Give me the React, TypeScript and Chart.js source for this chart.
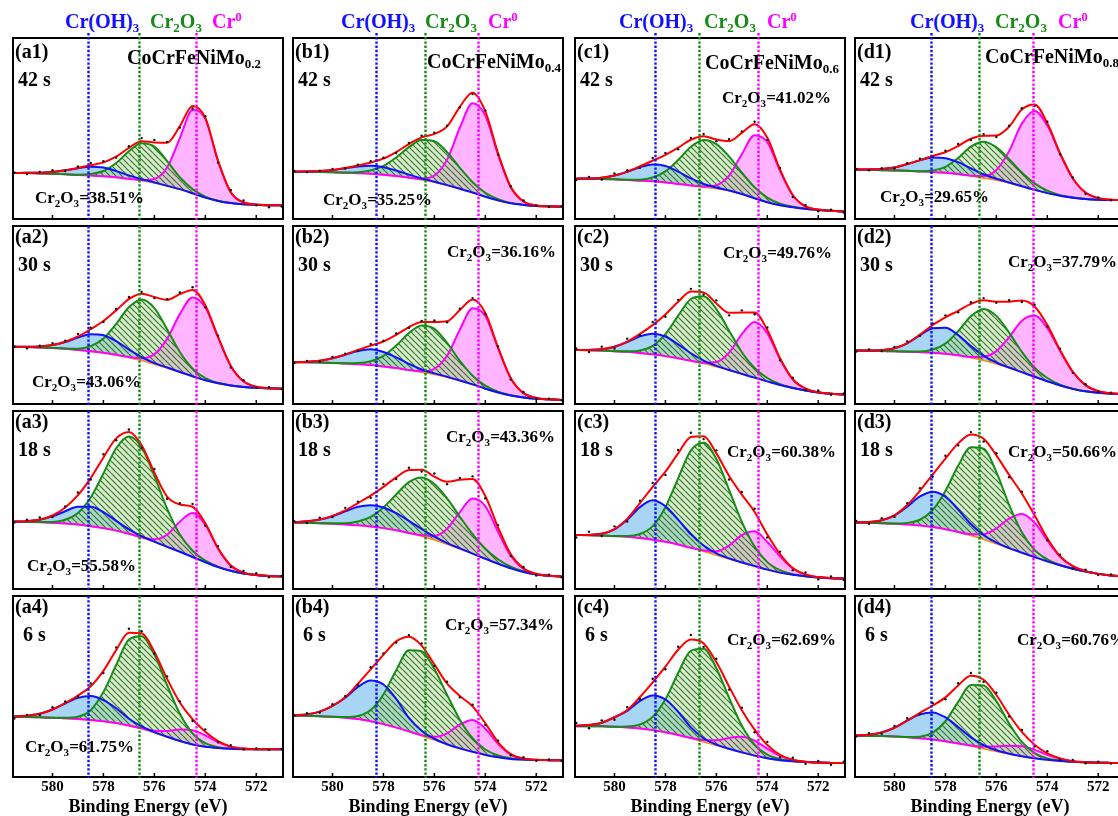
import React, { useEffect, useRef } from "react";
import { Chart, registerables } from "chart.js";

Chart.register(...registerables);

// Binding energies (eV) at which every curve is sampled
const ENERGY = [581.5, 581, 580.5, 580, 579.5, 579, 578.5, 578, 577.5, 577, 576.5, 576, 575.5, 575, 574.5, 574, 573.5, 573, 572.5, 572, 571.5, 571];
const TICK_VALUES = [580, 578, 576, 574, 572];
const X_MIN = 570.95;
const X_MAX = 581.55;

const MO_CONTENT = ["0.2", "0.4", "0.6", "0.8"];
const TIMES = ["42 s", "30 s", "18 s", "6 s"];
const PCT_A = [38.51, 43.06, 55.58, 61.75];
const PCT_B = [35.25, 36.16, 43.36, 57.34];
const PCT_C = [41.02, 49.76, 60.38, 62.69];
const PCT_D = [29.65, 37.79, 50.66, 60.76];

// Peak positions marked by the dotted guides: Cr(OH)3, Cr2O3, Cr0
const REF_A = [578.59, 576.6, 574.37];
const REF_B = [578.29, 576.37, 574.29];
const REF_C = [578.4, 576.67, 574.37];
const REF_D = [578.55, 576.67, 574.56];

// Each panel: background (BG), Cr(OH)3 (OH), Cr2O3 (OX) and Cr0 (M) components above background,
// and the offsets of the measured points from the fitted envelope (RES)
const A1_BG = [25.4,25.4,25.2,25.0,24.7,24.3,24.0,23.6,23.0,22.2,21.2,20.0,18.3,16.5,14.2,11.8,10.0,8.8,8.1,7.8,7.6,7.6];
const A1_OH = [0,0.1,0.3,1.0,2.2,3.8,4.9,4.8,3.5,1.9,0.8,0.2,0,0,0,0,0,0,0,0,0,0];
const A1_OX = [0,0,0,0,0,0.1,0.8,2.9,7.9,15.2,20.7,20.0,13.7,6.6,2.3,0.6,0.1,0,0,0,0,0];
const A1_M = [0,0,0,0,0,0,0,0,0,0,0.3,2.1,10.1,28.2,46.0,43.5,22.0,6.0,1.0,0.2,0,0];
const A1_RES = [0.3,-0.6,0.5,1.0,-0.4,0.8,1.3,0.6,-0.5,0.9,1.7,1.4,0.5,-0.8,-1.4,0.9,-1.0,1.2,1.1,-0.4,-1.1,-0.7];

const A2_BG = [32.1,32.0,31.8,31.5,31.0,30.4,29.7,28.8,27.7,26.2,24.4,22.4,20.3,18.0,15.6,13.3,11.6,10.4,9.6,9.1,8.8,8.6];
const A2_OH = [0,0.1,0.5,1.6,3.8,6.9,9.5,9.8,7.6,4.4,1.9,0.6,0.2,0,0,0,0,0,0,0,0,0];
const A2_OX = [0,0,0,0,0.2,0.7,2.8,8.0,17.3,28.1,34.3,31.5,21.7,11.2,4.3,1.3,0.3,0,0,0,0,0];
const A2_M = [0,0,0,0,0,0,0,0,0,0.2,1.3,5.6,16.3,32.5,44.2,40.9,25.8,11.0,3.2,0.6,0.1,0];
const A2_RES = [0.2,-0.8,0.4,1.1,0.6,1.4,0.9,-0.5,0.8,1.2,1.0,-0.6,0.4,0.9,1.5,-1.2,0.7,-0.9,0.6,-0.4,0.5,-0.2];

const A3_BG = [37.8,37.7,37.5,37.2,36.8,36.2,35.3,34.2,32.8,31.0,28.8,26.4,23.7,20.9,18.0,15.0,12.3,10.2,8.7,7.8,7.3,7.0];
const A3_OH = [0.1,0.4,1.4,3.6,6.9,10.0,10.9,9.0,5.5,2.5,0.9,0.2,0,0,0,0,0,0,0,0,0,0];
const A3_OX = [0,0,0.1,0.5,2.1,6.5,16.1,30.7,46.3,54.7,50.9,37.2,21.4,9.7,3.5,0.9,0.2,0,0,0,0,0];
const A3_M = [0,0,0,0,0,0,0,0,0,0,0.2,1.6,6.8,16.9,24.7,21.0,10.4,3.0,0.5,0,0,0];
const A3_RES = [-0.5,0.8,1.2,-0.9,0.6,1.5,-0.8,1.8,-1.0,1.4,-1.5,2.0,-1.2,0.7,1.6,-1.4,1.2,-0.8,0.9,1.1,-0.7,0.4];

const A4_BG = [33.3,33.2,33.0,32.8,32.4,32.0,31.5,30.8,29.8,28.4,26.6,24.4,22.1,19.9,18.0,16.7,16.0,15.6,15.4,15.3,15.3,15.3];
const A4_OH = [0.2,0.6,1.9,4.5,8.2,11.7,13.2,11.7,8.2,3.8,1.4,0.4,0.1,0,0,0,0,0,0,0,0,0];
const A4_OX = [0,0,0,0,0.3,1.3,5.4,16.1,32.1,47.5,51.1,43.2,28.7,15.0,6.1,2.0,0.5,0.1,0,0,0,0];
const A4_M = [0,0,0,0,0,0,0,0,0,0,0.3,1.1,3.3,6.3,7.8,6.3,3.3,1.1,0.3,0,0,0];
const A4_RES = [-1.2,0.5,-0.6,1.3,0.8,-0.5,1.6,-1.2,1.5,2.2,1.1,-0.9,1.4,0.6,-1.0,1.3,-0.6,0.8,-0.4,0.5,-0.3,0.2];

const B1_BG = [26.1,26.1,26.0,25.8,25.6,25.3,25.0,24.5,23.8,22.8,21.6,20.3,18.6,16.7,14.6,12.3,10.3,8.7,7.8,7.2,7.0,6.8];
const B1_OH = [0,0.2,0.5,1.3,2.5,3.7,4.4,4.1,3.0,1.7,0.8,0.3,0.1,0,0,0,0,0,0,0,0,0];
const B1_OX = [0,0,0,0,0.1,0.55,1.8,4.8,10.2,16.9,22.1,22.7,18.3,11.6,5.7,2.2,0.7,0.2,0,0,0,0];
const B1_M = [0,0,0,0,0,0,0,0,0,0,0.6,3.7,14.2,33.7,49.4,44.9,25.3,8.8,1.9,0.3,0,0];
const B1_RES = [0.3,-0.4,0.2,0.6,-0.3,0.5,0.8,0.4,-0.5,0.6,0.9,0.7,0.4,-0.3,-0.6,0.5,-0.7,0.4,0.6,-0.2,-0.4,0.3];

const B2_BG = [23.4,23.4,23.3,23.1,22.8,22.4,21.9,21.1,20.2,19.1,17.9,16.6,15.1,13.2,11.0,8.6,6.5,4.8,3.7,3.0,2.6,2.3];
const B2_OH = [0.1,0.3,1.0,2.6,4.9,7.4,8.8,8.1,6.0,3.4,1.5,0.6,0.15,0,0,0,0,0,0,0,0,0];
const B2_OX = [0,0,0,0,0.1,0.6,2.1,5.9,12.6,20.7,26.2,25.6,19.2,11.1,4.9,1.7,0.4,0.1,0,0,0,0];
const B2_M = [0,0,0,0,0,0,0,0,0,0,0.5,3.2,12.0,28.5,42.8,40.9,24.9,9.6,2.4,0.4,0,0];
const B2_RES = [-0.3,0.5,-0.4,0.7,0.4,-0.6,0.9,0.5,0.8,-0.4,0.6,0.9,-0.5,0.7,0.8,-0.6,0.5,-0.8,0.6,-0.3,0.4,-0.2];

const B3_BG = [37.3,37.2,37.0,36.7,36.3,35.8,35.1,34.2,33.0,31.5,29.7,27.6,25.2,22.6,19.9,17.0,14.2,11.6,9.6,8.2,7.4,7.0];
const B3_OH = [0.2,0.8,2.0,4.2,7.3,10.4,12.0,11.6,9.6,6.8,4.0,1.8,0.6,0.2,0,0,0,0,0,0,0,0];
const B3_OX = [0,0,0,0.2,0.6,2.1,5.4,11.6,20.1,28.5,32.9,31.4,25.7,18.0,10.9,5.6,2.5,0.9,0.3,0.1,0,0];
const B3_M = [0,0,0,0,0,0,0,0,0,0,0.45,2.3,8.7,20.6,31.0,29.6,17.9,7.0,1.7,0.2,0,0];
const B3_RES = [0.6,-0.9,1.1,-0.7,1.4,0.8,-1.2,1.6,-0.9,1.3,-1.1,1.8,-1.3,1.0,1.5,-1.2,1.3,-1.0,0.8,-0.9,0.7,-0.4];

const B4_BG = [33.9,33.8,33.6,33.3,32.8,32.0,30.8,29.2,27.3,25.2,22.8,20.4,18.0,15.8,13.9,12.2,10.9,10.0,9.6,9.4,9.3,9.2];
const B4_OH = [0.3,0.8,2.5,6.0,11.0,17.8,22.5,21.9,15.9,7.5,2.8,0.7,0.1,0,0,0,0,0,0,0,0,0];
const B4_OX = [0,0,0,0,0.3,1.7,6.2,16.4,31.7,44.8,46.7,39.3,27.4,15.8,7.5,3.0,1.0,0.3,0.1,0,0,0];
const B4_M = [0,0,0,0,0,0,0,0,0,0,0.3,1.8,6.1,13.2,17.6,14.5,7.4,2.3,0.5,0.1,0,0];
const B4_RES = [-0.4,0.6,-0.5,0.9,0.6,-0.7,1.1,0.8,-0.6,0.9,1.2,-0.8,1.0,-0.7,0.9,-1.0,0.8,-0.6,0.7,-0.5,0.4,-0.3];

const C1_BG = [22.3,22.2,22.1,21.9,21.6,21.2,20.8,20.2,19.4,18.5,17.6,16.8,15.6,13.8,11.5,9.3,7.6,6.5,5.6,5.0,4.5,4.1];
const C1_OH = [0,0.2,0.75,2.1,4.5,7.4,9.3,9.1,6.8,3.9,1.7,0.6,0.15,0,0,0,0,0,0,0,0,0];
const C1_OX = [0,0,0,0,0.1,0.55,2.1,6.1,13.2,21.4,26.1,24.6,18.9,11.8,6.0,2.5,0.8,0.25,0.05,0,0,0];
const C1_M = [0,0,0,0,0,0,0,0,0,0,0.3,1.9,8.4,22.0,34.8,33.1,18.9,6.5,1.3,0.2,0,0];
const C1_RES = [-0.8,0.9,-1.1,1.2,0.7,-0.9,1.5,1.1,-0.8,1.0,1.3,-0.9,1.1,0.8,1.4,-1.2,0.9,-1.1,0.8,-0.9,0.6,-0.5];

const C2_BG = [30.3,30.2,30.0,29.7,29.3,28.7,27.9,26.9,25.7,24.3,22.7,20.9,19.0,16.9,14.8,12.7,10.7,9.0,7.6,6.5,5.8,5.4];
const C2_OH = [0,0.2,0.8,2.5,5.5,9.3,11.6,11.0,7.8,4.2,1.7,0.5,0.1,0,0,0,0,0,0,0,0,0];
const C2_OX = [0,0,0,0,0.3,1.4,4.8,12.4,23.9,34.7,37.8,32.4,22.2,12.2,5.4,1.9,0.5,0.1,0,0,0,0];
const C2_M = [0,0,0,0,0,0,0,0,0,0,0.5,2.7,9.9,22.3,31.2,27.0,14.5,4.8,1.0,0.1,0,0];
const C2_RES = [0.9,-1.2,1.4,-1.0,1.6,-0.8,1.8,-1.3,1.1,1.5,-1.2,1.7,-1.4,1.2,-1.0,1.4,-1.1,0.9,-0.8,1.0,-0.6,0.5];

const C3_BG = [30.3,30.2,30.0,29.7,29.3,28.6,27.7,26.5,25.0,23.2,21.2,19.0,16.9,14.9,12.9,10.9,9.2,8.0,7.1,6.5,6.1,5.9];
const C3_OH = [0,0.2,1.0,3.8,9.6,17.4,22.1,20.0,14.0,7.5,3.2,1.0,0.3,0,0,0,0,0,0,0,0,0];
const C3_OX = [0,0,0,0.1,0.5,2.3,7.6,19.4,37.2,54.7,61.0,54.0,38.8,22.8,10.9,4.2,1.4,0.3,0.1,0,0,0];
const C3_M = [0,0,0,0,0,0,0,0,0,0,0.4,2.2,7.5,15.3,19.5,15.5,9.0,3.5,1.0,0.2,0,0];
const C3_RES = [-1.4,1.8,-1.2,1.6,-1.5,1.3,2.2,-1.8,1.9,2.4,-1.6,1.7,-2.0,1.5,1.8,-1.6,1.4,-1.2,1.1,-1.3,0.9,-0.8];

const C4_BG = [28.1,28.1,28.0,27.8,27.4,26.8,25.9,24.7,23.2,21.4,19.4,17.4,15.5,13.6,11.8,10.3,9.3,8.7,8.3,8.0,7.8,7.7];
const C4_OH = [0.2,0.6,2.0,5.2,9.1,15.2,19.1,18.1,12.8,6.0,2.0,0.5,0.1,0,0,0,0,0,0,0,0,0];
const C4_OX = [0,0,0,0,0.5,2.2,7.3,18.2,34.3,48.3,51.4,42.7,28.2,14.7,6.1,2.0,0.5,0.1,0,0,0,0];
const C4_M = [0,0,0,0,0,0,0,0,0,0.2,1.0,2.9,6.1,8.6,8.3,5.4,2.4,0.7,0.15,0,0,0];
const C4_RES = [1.5,-1.8,1.3,-1.4,1.6,-1.2,2.0,-1.5,1.7,2.6,-1.9,1.8,-1.6,1.4,-1.5,1.7,-1.3,1.1,-1.2,0.9,-1.0,0.7];

const D1_BG = [27.3,27.2,27.0,26.8,26.6,26.3,26.0,25.5,24.8,23.8,22.6,21.4,19.9,18.0,16.1,14.3,12.8,11.8,11.1,10.7,10.5,10.4];
const D1_OH = [0,0.2,0.65,1.7,3.7,6.1,8.0,8.1,6.6,4.2,2.1,0.8,0.25,0.1,0,0,0,0,0,0,0,0];
const D1_OX = [0,0,0,0,0,0.15,0.85,3.3,8.9,16.2,20.1,18.2,13.2,7.7,3.6,1.35,0.4,0.1,0,0,0,0];
const D1_M = [0,0,0,0,0,0,0,0,0,0.15,1.2,5.7,17.6,34.7,43.6,37.3,23.2,10.6,3.5,0.85,0.15,0];
const D1_RES = [0.3,-0.5,0.4,-0.6,0.5,0.7,-0.6,0.8,1.2,-0.7,0.9,-0.8,0.6,0.7,-0.9,0.8,-0.6,0.5,-0.7,0.4,-0.3,0.2];

const D2_BG = [30.0,29.9,29.8,29.6,29.4,29.1,28.8,28.2,27.3,26.0,24.4,22.5,20.3,17.9,15.3,12.8,10.4,8.5,7.1,6.3,5.8,5.6];
const D2_OH = [0,0.1,0.5,1.7,4.7,9.5,13.8,14.7,11.4,6.5,2.7,0.8,0.2,0,0,0,0,0,0,0,0,0];
const D2_OX = [0,0,0,0,0.1,0.4,1.8,5.8,13.6,23.3,29.0,27.0,19.8,11.4,5.1,1.8,0.5,0.1,0,0,0,0];
const D2_M = [0,0,0,0,0,0,0,0,0.06,0.45,2.2,7.2,17.2,28.9,34.4,29.8,19.4,9.5,3.5,0.95,0.2,0];
const D2_RES = [-0.5,0.7,-0.6,0.8,1.0,-0.7,0.9,1.1,-0.8,0.9,1.2,-0.6,0.8,-0.9,1.0,-0.8,0.7,-0.6,0.5,-0.4,0.3,-0.2];

const D3_BG = [37.3,37.2,37.0,36.7,36.3,35.7,34.8,33.6,32.0,30.0,27.8,25.4,22.9,20.4,17.9,15.5,13.3,11.4,9.8,8.5,7.6,7.0];
const D3_OH = [0.1,0.4,1.6,4.6,10.0,16.3,19.9,18.2,12.6,6.5,2.5,0.7,0.1,0,0,0,0,0,0,0,0,0];
const D3_OX = [0,0,0,0.1,0.85,3.2,9.6,21.5,37.2,49.6,51.0,40.3,24.4,11.5,4.1,1.2,0.2,0,0,0,0,0];
const D3_M = [0,0,0,0,0,0,0,0,0,0.75,3.1,8.7,16.7,21.8,19.4,11.8,4.9,1.4,0.25,0,0,0];
const D3_RES = [0.8,-1.0,1.2,-0.9,1.1,1.4,-1.2,1.6,-1.1,1.3,-1.5,1.2,-1.3,1.0,1.4,-1.1,0.9,-1.2,0.8,-0.7,0.6,-0.5];

const D4_BG = [22.8,22.7,22.6,22.4,22.0,21.4,20.7,19.7,18.5,17.1,15.6,14.1,12.7,11.5,10.4,9.5,8.9,8.4,8.1,7.9,7.8,7.7];
const D4_OH = [0.2,0.65,2.0,4.8,9.1,13.2,15.0,13.2,9.1,4.8,2.0,0.65,0.2,0,0,0,0,0,0,0,0,0];
const D4_OX = [0,0,0,0,0.15,0.9,3.8,11.1,23.0,33.7,34.9,27.8,16.9,7.9,2.8,0.8,0.2,0,0,0,0,0];
const D4_M = [0,0,0,0,0,0,0,0,0,0.35,1.2,2.75,4.6,5.5,4.6,2.75,1.2,0.35,0.1,0,0,0];
const D4_RES = [-0.6,0.8,-0.7,1.0,1.2,-0.9,1.3,-1.0,1.2,1.5,-1.1,1.3,-1.0,1.1,-0.9,1.2,-0.8,0.7,-0.6,0.5,-0.4,0.3];

const COLUMNS = [
  { key: "a", refs: REF_A, pct: PCT_A, panels: [
    { bg: A1_BG, oh: A1_OH, ox: A1_OX, m: A1_M, res: A1_RES },
    { bg: A2_BG, oh: A2_OH, ox: A2_OX, m: A2_M, res: A2_RES },
    { bg: A3_BG, oh: A3_OH, ox: A3_OX, m: A3_M, res: A3_RES },
    { bg: A4_BG, oh: A4_OH, ox: A4_OX, m: A4_M, res: A4_RES },
  ] },
  { key: "b", refs: REF_B, pct: PCT_B, panels: [
    { bg: B1_BG, oh: B1_OH, ox: B1_OX, m: B1_M, res: B1_RES },
    { bg: B2_BG, oh: B2_OH, ox: B2_OX, m: B2_M, res: B2_RES },
    { bg: B3_BG, oh: B3_OH, ox: B3_OX, m: B3_M, res: B3_RES },
    { bg: B4_BG, oh: B4_OH, ox: B4_OX, m: B4_M, res: B4_RES },
  ] },
  { key: "c", refs: REF_C, pct: PCT_C, panels: [
    { bg: C1_BG, oh: C1_OH, ox: C1_OX, m: C1_M, res: C1_RES },
    { bg: C2_BG, oh: C2_OH, ox: C2_OX, m: C2_M, res: C2_RES },
    { bg: C3_BG, oh: C3_OH, ox: C3_OX, m: C3_M, res: C3_RES },
    { bg: C4_BG, oh: C4_OH, ox: C4_OX, m: C4_M, res: C4_RES },
  ] },
  { key: "d", refs: REF_D, pct: PCT_D, panels: [
    { bg: D1_BG, oh: D1_OH, ox: D1_OX, m: D1_M, res: D1_RES },
    { bg: D2_BG, oh: D2_OH, ox: D2_OX, m: D2_M, res: D2_RES },
    { bg: D3_BG, oh: D3_OH, ox: D3_OX, m: D3_M, res: D3_RES },
    { bg: D4_BG, oh: D4_OH, ox: D4_OX, m: D4_M, res: D4_RES },
  ] },
];

// ---- layout ----
const SERIF = "'Liberation Serif', 'Times New Roman', Times, serif";
const COL_LEFT = [9, 289, 571, 851];
const PANEL_W = 278;
const PANEL_TOP = [37, 222, 407, 592];
const CANVAS_TOP = [33, 222, 407, 592];
const CANVAS_H = [190, 186, 186, 224];
const PAD_TOP = [5, 1, 1, 1];
const PAD_BOTTOM = [1, 1, 1, 0];

const HEADER_X = [
  [65, 150, 212],
  [341, 425, 488],
  [619, 704, 767],
  [910, 995, 1058],
];
const ALLOY_POS = [[127, 57], [427, 61], [705, 62], [985, 56]];
const PCT_POS = [
  [[35, 198], [32, 382], [27, 566], [25, 747]],
  [[323, 200], [447, 252], [446, 437], [445, 625]],
  [[722, 98], [723, 253], [727, 452], [727, 640]],
  [[880, 197], [1008, 262], [1008, 452], [1017, 640]],
];

const C_BLUE = "#1010ff";
const C_GREEN = "#168c16";
const C_MAGENTA = "#ff00ff";
const C_RED = "#ff0000";
const C_ORANGE = "#ff8c1a";
const FILL_BLUE = "rgba(110, 185, 235, 0.6)";
const FILL_PINK = "rgba(255, 120, 255, 0.55)";

function makeHatch() {
  const s = 6;
  const c = document.createElement("canvas");
  c.width = s;
  c.height = s;
  const g = c.getContext("2d");
  if (!g) return "rgba(165,225,135,0.5)";
  g.fillStyle = "rgba(165, 225, 135, 0.5)";
  g.fillRect(0, 0, s, s);
  g.strokeStyle = "rgba(35, 75, 35, 0.8)";
  g.lineWidth = 1.2;
  g.beginPath();
  g.moveTo(0, 0); g.lineTo(s, s);
  g.moveTo(-s, 0); g.lineTo(0, s);
  g.moveTo(s, 0); g.lineTo(2 * s, s);
  g.stroke();
  return g.createPattern(c, "repeat") || "rgba(165,225,135,0.5)";
}

const decorPlugin = {
  id: "decor",
  afterDatasetsDraw(chart: any, _args: any, opts: any) {
    const { ctx, chartArea, scales } = chart;
    const { left, right, top, bottom } = chartArea;
    const x = scales.x;
    ctx.save();
    // frame
    ctx.strokeStyle = "#000";
    ctx.lineWidth = 2;
    ctx.strokeRect(left, top, right - left, bottom - top);
    // inward ticks along the lower edge
    ctx.lineWidth = 1.5;
    TICK_VALUES.forEach((v) => {
      const px = x.getPixelForValue(v);
      ctx.beginPath();
      ctx.moveTo(px, bottom);
      ctx.lineTo(px, bottom - 4);
      ctx.stroke();
    });
    // dotted guides at the component positions
    const colors = [C_BLUE, C_GREEN, C_MAGENTA];
    ctx.lineWidth = 2.4;
    ctx.setLineDash([2.4, 1.8]);
    opts.refs.forEach((e: number, i: number) => {
      const px = Math.round(x.getPixelForValue(e)) + 0.5;
      ctx.strokeStyle = colors[i];
      ctx.beginPath();
      ctx.moveTo(px, top - opts.extendTop);
      ctx.lineTo(px, bottom + 1);
      ctx.stroke();
    });
    ctx.restore();
  },
};

function Panel({ spec, col, row }: any) {
  const ref = useRef<HTMLCanvasElement>(null);
  const refs = COLUMNS[col].refs;
  useEffect(() => {
    const canvas = ref.current;
    if (!canvas) return;
    const hatch = makeHatch();
    const pts = (vals: number[]) => ENERGY.map((e, i) => ({ x: e, y: vals[i] }));
    const withBg = (vals: number[]) => spec.bg.map((b: number, i: number) => b + vals[i]);
    const envelope = spec.bg.map((b: number, i: number) => b + spec.oh[i] + spec.ox[i] + spec.m[i]);
    const measured = envelope.map((v: number, i: number) => v + spec.res[i]);
    const isBottom = row === 3;
    const line = (label: string, vals: number[], color: string, order: number, extra: any = {}) => ({
      label,
      data: pts(vals),
      borderColor: color,
      borderWidth: 2,
      pointRadius: 0,
      fill: false,
      cubicInterpolationMode: "monotone",
      order,
      ...extra,
    });
    const none = "rgba(0,0,0,0)";
    const chart = new Chart(canvas, {
      type: "line",
      data: {
        datasets: [
          line("Background", spec.bg, C_ORANGE, 5, { borderWidth: 1.6 }),
          line("Cr0 area", withBg(spec.m), none, 8, { fill: 0, backgroundColor: FILL_PINK, borderWidth: 0 }),
          line("Cr(OH)3 area", withBg(spec.oh), none, 7, { fill: 0, backgroundColor: FILL_BLUE, borderWidth: 0 }),
          line("Cr2O3 area", withBg(spec.ox), none, 6, { fill: 0, backgroundColor: hatch, borderWidth: 0 }),
          line("Cr0", withBg(spec.m), C_MAGENTA, 4),
          line("Cr2O3", withBg(spec.ox), C_GREEN, 3),
          line("Cr(OH)3", withBg(spec.oh), C_BLUE, 2),
          line("Fit", envelope, C_RED, 1),
          {
            label: "Measured",
            data: pts(measured),
            showLine: false,
            pointRadius: 1.2,
            pointBackgroundColor: "#111",
            pointBorderWidth: 0,
            borderColor: none,
            order: 0,
          },
        ],
      } as any,
      options: {
        animation: false,
        responsive: false,
        events: [],
        layout: { padding: { left: 1, right: 1, top: PAD_TOP[row], bottom: PAD_BOTTOM[row] } },
        plugins: {
          legend: { display: false },
          tooltip: { enabled: false },
          decor: { refs, extendTop: row === 0 ? 5 : 0 },
        } as any,
        scales: {
          x: {
            type: "linear",
            reverse: true,
            min: X_MIN,
            max: X_MAX,
            display: isBottom,
            afterBuildTicks: (s: any) => {
              s.ticks = TICK_VALUES.map((v) => ({ value: v }));
            },
            grid: { display: false, drawTicks: false },
            border: { display: false },
            ticks: {
              padding: 3,
              color: "#000",
              font: { family: SERIF, weight: "bold", size: 15, lineHeight: 1 },
              callback: (v: any) => String(v),
            },
            title: {
              display: isBottom,
              text: "Binding Energy (eV)",
              color: "#000",
              padding: 0,
              font: { family: SERIF, weight: "bold", size: 18, lineHeight: 1 },
            },
          },
          y: { display: false, min: 0, max: 100 },
        },
      } as any,
      plugins: [decorPlugin as any],
    });
    return () => chart.destroy();
  }, []);
  return (
    <canvas
      ref={ref}
      width={PANEL_W}
      height={CANVAS_H[row]}
      style={{ position: "absolute", left: COL_LEFT[col], top: CANVAS_TOP[row], width: PANEL_W, height: CANVAS_H[row] }}
    />
  );
}

const subStyle: any = { fontSize: "0.65em", position: "relative", top: "0.32em", verticalAlign: "baseline" };
const supStyle: any = { fontSize: "0.65em", position: "relative", top: "-0.5em", verticalAlign: "baseline" };

function Txt({ x, cy, size, color = "#000", children }: any) {
  return (
    <div
      style={{
        position: "absolute",
        left: x,
        top: cy - size * 0.51,
        fontFamily: SERIF,
        fontWeight: "bold",
        fontSize: size,
        lineHeight: 1,
        color,
        whiteSpace: "nowrap",
      }}
    >
      {children}
    </div>
  );
}

export default function App() {
  return (
    <div style={{ position: "fixed", left: 0, top: 0, width: 1118, height: 816, overflow: "hidden", background: "#fff" }}>
      {COLUMNS.map((c, ci) =>
        c.panels.map((p, ri) => <Panel key={c.key + ri} spec={p} col={ci} row={ri} />)
      )}
      {COLUMNS.map((c, ci) => (
        <React.Fragment key={"h" + ci}>
          <Txt x={HEADER_X[ci][0]} cy={21} size={20} color={C_BLUE}>
            Cr(OH)<span style={subStyle}>3</span>
          </Txt>
          <Txt x={HEADER_X[ci][1]} cy={21} size={20} color={C_GREEN}>
            Cr<span style={subStyle}>2</span>O<span style={subStyle}>3</span>
          </Txt>
          <Txt x={HEADER_X[ci][2]} cy={21} size={20} color={C_MAGENTA}>
            Cr<span style={supStyle}>0</span>
          </Txt>
          <Txt x={ALLOY_POS[ci][0]} cy={ALLOY_POS[ci][1]} size={20}>
            CoCrFeNiMo<span style={subStyle}>{MO_CONTENT[ci]}</span>
          </Txt>
          {c.panels.map((_, ri) => (
            <React.Fragment key={"l" + ri}>
              <Txt x={COL_LEFT[ci] + 6} cy={PANEL_TOP[ri] + 14.5} size={20}>
                ({c.key}{ri + 1})
              </Txt>
              <Txt x={COL_LEFT[ci] + (ri === 3 ? 14 : 9)} cy={PANEL_TOP[ri] + 42.5} size={20}>
                {TIMES[ri]}
              </Txt>
              <Txt x={PCT_POS[ci][ri][0]} cy={PCT_POS[ci][ri][1]} size={17}>
                Cr<span style={subStyle}>2</span>O<span style={subStyle}>3</span>={c.pct[ri].toFixed(2)}%
              </Txt>
            </React.Fragment>
          ))}
        </React.Fragment>
      ))}
    </div>
  );
}
